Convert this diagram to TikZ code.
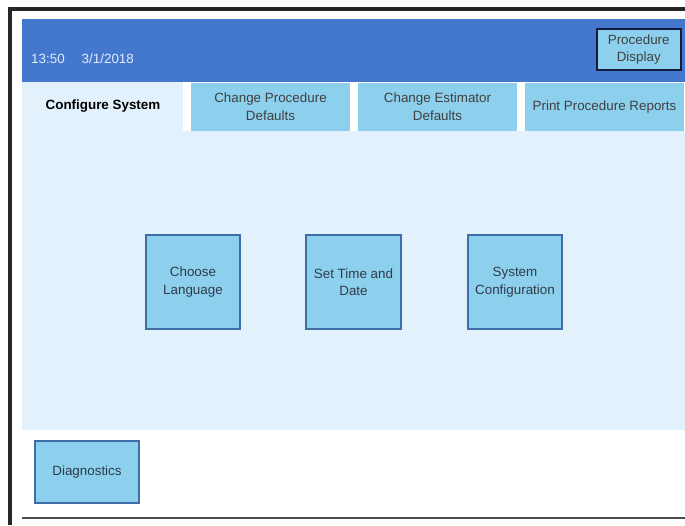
\documentclass[tikz,border=0pt]{standalone}
\usepackage{fontspec}
\setmainfont{Liberation Sans}
\definecolor{header}{RGB}{68,120,206}
\definecolor{tabfill}{RGB}{140,208,238}
\definecolor{pane}{RGB}{226,241,252}
\definecolor{btnline}{RGB}{62,110,168}
\definecolor{navy}{RGB}{18,28,62}
\definecolor{txt}{RGB}{50,58,72}

\begin{document}
\begin{tikzpicture}[x=1pt,y=-1pt,
	every node/.style={font=\fontsize{13.4}{17.5}\selectfont, align=center, inner sep=0pt, text=txt},
	tab/.style={fill=tabfill, minimum width=159pt, minimum height=48pt},
	btn/.style={fill=tabfill, draw=btnline, line width=1.2pt, minimum width=94pt, minimum height=94pt}]
			\useasboundingbox (0,0) rectangle (685,525);
			\coordinate (t1) at (103,106);
			\coordinate (t2) at (270.5,106.5);
			\coordinate (t3) at (437.5,106.5);
			\coordinate (t4) at (604.5,107);
			\coordinate (b1) at (193,282);
			\coordinate (b2) at (353.5,282);
			\coordinate (b3) at (515,282);
			
			\fill[white] (0,0) rectangle (685,525);
			\fill[pane] (22,82) rectangle (685,430);
			\fill[white] (183,82) rectangle (685,131);
			\fill[header] (22,19) rectangle (685,82);
			\draw[line width=4pt, black!85] (10,7) -- (10,525);
			\draw[line width=4pt, black!85] (8,9) -- (685,9);
			\draw[line width=1.5pt, black!70] (22,518) -- (685,518);
			
			\node (clock) at (31,58.5) [anchor=west, text=white!85!header]{13:50\hspace{17pt}3/1/2018};
			\node (procdisp) at (638.75,49.5) [fill=tabfill, draw=navy, line width=2pt, minimum width=83.5pt, minimum height=41pt, text=black!75]{Procedure\\Display};
			
			\node (tabcfg) at (t1) [text=black, font=\fontsize{13.4}{17.5}\selectfont\bfseries]{Configure System};
			\node (tabproc) at (t2) [tab, text=black!75]{Change Procedure\\Defaults};
			\node (tabest) at (t3) [tab, minimum width=158.5pt, text=black!75]{Change Estimator\\Defaults};
			\node (tabprint) at (t4) [tab, text=black!75]{Print Procedure Reports};
			
			\node (lang) at (b1) [btn]{Choose\\Language};
			\node (timedate) at (b2) [btn, minimum width=95pt]{Set Time and\\Date};
			\node (syscfg) at (b3) [btn]{System\\Configuration};
			\node (diag) at (87,472) [btn, minimum width=104pt, minimum height=62pt]{Diagnostics};
		\end{tikzpicture}
\end{document}
